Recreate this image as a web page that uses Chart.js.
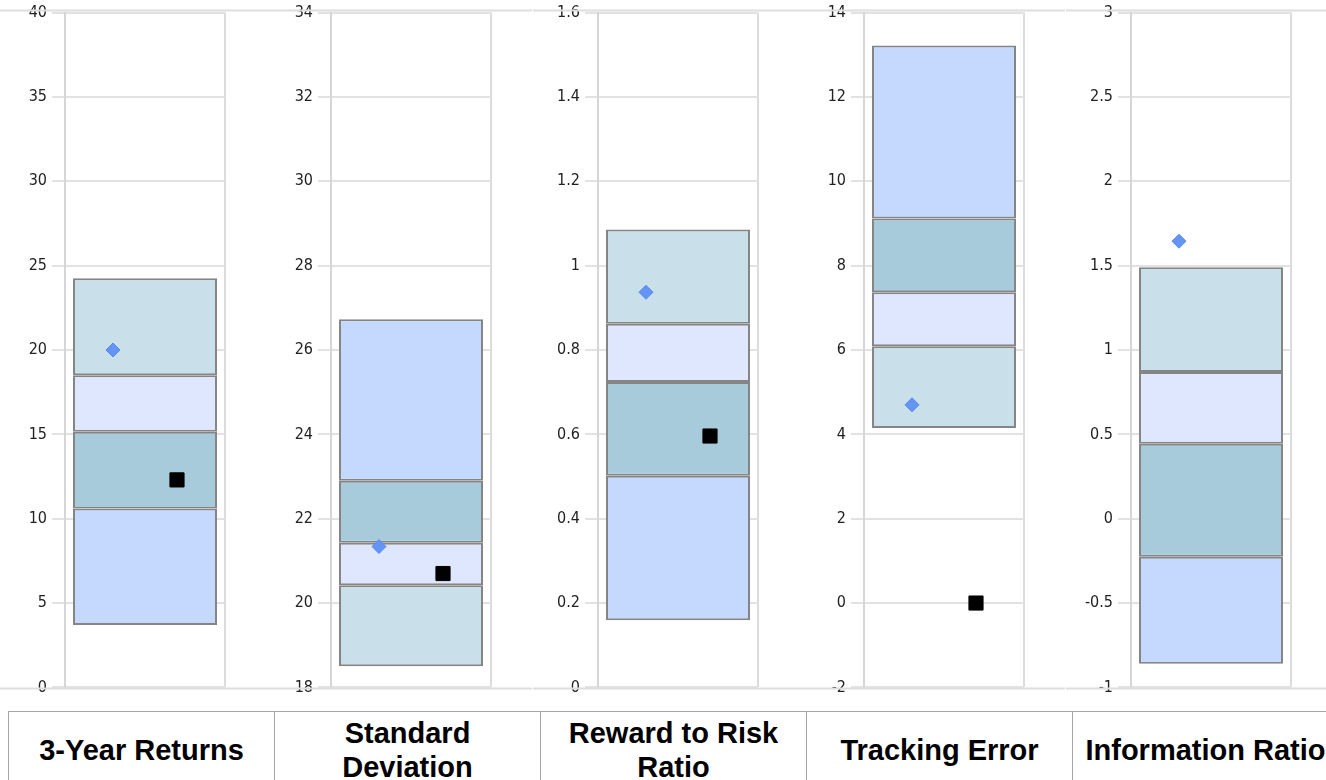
<!DOCTYPE html>
<html>
<head>
<meta charset="utf-8">
<script src="https://cdn.jsdelivr.net/npm/chart.js@4/dist/chart.umd.min.js"></script>
<style>
  html, body { margin: 0; padding: 0; background: #fff; width: 1326px; height: 780px; overflow: hidden; }
  .panel { position: absolute; top: -2px; width: 266px; height: 704px; }
  table {
    position: absolute; top: 711px; left: 8px;
    border-collapse: collapse; table-layout: fixed; width: 1330px;
  }
  td {
    width: 266px; height: 76px; padding: 0 5px; box-sizing: border-box;
    border: 1px solid #a6a6a6; text-align: center; vertical-align: middle;
    font: bold 29px 'Liberation Sans', Arial, sans-serif; line-height: 34px; color: #000;
    white-space: normal; overflow: visible;
  }
</style>
</head>
<body>
<div id="panels"></div>
<table><tr id="hdr"></tr></table>
<script>
// one panel per metric
const metrics = ['3-Year Returns', 'Standard Deviation', 'Reward to Risk Ratio', 'Tracking Error', 'Information Ratio'];
const yMin = [0, 18, 0, -2, -1];
const yMax = [40, 34, 1.6, 14, 3];
const yStep = [5, 2, 0.2, 2, 0.5];

// quartile band edges, bottom to top
const bandEdges = [
    [3.7, 10.6, 15.15, 18.5, 24.25],
    [18.5, 20.42, 21.43, 22.9, 26.73],
    [0.159, 0.502, 0.724, 0.862, 1.086],
    [4.15, 6.09, 7.37, 9.12, 13.22],
    [-0.86, -0.225, 0.445, 0.87, 1.49],
];
const higherIsBetter = [true, false, true, false, true];

const fundValues = [20.0, 21.34, 0.937, 4.70, 1.645];      // blue diamond
const benchmarkValues = [12.3, 20.7, 0.596, 0, null];       // black square

// colours for 1st..4th quartile
const quartileColors = ['#c9e0ea', '#dfe7fe', '#a8cbdc', '#c5d8fd'];

const frameLines = {
    id: 'frameLines',
    beforeDatasetsDraw(chart) {
        const { ctx, scales: { y } } = chart;
        ctx.save();
        ctx.strokeStyle = '#dedede';
        ctx.lineWidth = 2;
        ctx.beginPath();
        ctx.moveTo(0, y.top - 2); ctx.lineTo(chart.width, y.top - 2);
        ctx.moveTo(0, y.bottom + 1); ctx.lineTo(chart.width, y.bottom + 1);
        ctx.stroke();
        ctx.restore();
    }
};

const panels = document.getElementById('panels');
const hdr = document.getElementById('hdr');

metrics.forEach((name, i) => {
    const td = document.createElement('td');
    td.textContent = name;
    hdr.appendChild(td);

    const div = document.createElement('div');
    div.className = 'panel';
    div.style.left = Math.floor(i * 266.5) + 'px';
    const canvas = document.createElement('canvas');
    div.appendChild(canvas);
    panels.appendChild(div);

    const edges = bandEdges[i];
    const bands = [];
    for (let b = 0; b < 4; b++) {
        // band b counted from bottom; quartile depends on direction
        const q = higherIsBetter[i] ? 3 - b : b;
        bands.push({
            type: 'bar',
            data: [[edges[b], edges[b + 1]]],
            backgroundColor: quartileColors[q],
            borderColor: '#858585',
            borderWidth: 2,
            borderSkipped: false,
            grouped: false,
            barPercentage: 0.9,
            categoryPercentage: 1.0,
            order: 2,
        });
    }

    const points = [
        {
            type: 'scatter',
            xAxisID: 'xp',
            data: [{ x: -0.4, y: fundValues[i] }],
            pointStyle: 'rectRot',
            pointRadius: 7,
            backgroundColor: '#6494f5',
            borderColor: '#5a88ea',
            borderWidth: 1,
            order: 0,
        },
        {
            type: 'scatter',
            xAxisID: 'xp',
            data: benchmarkValues[i] === null ? [] : [{ x: 0.4, y: benchmarkValues[i] }],
            pointStyle: 'rect',
            pointRadius: 10,
            backgroundColor: '#000',
            borderColor: '#000',
            borderWidth: 1,
            order: 0,
        },
    ];

    new Chart(canvas, {
        type: 'bar',
        data: { labels: [''], datasets: [...bands, ...points] },
        plugins: [frameLines],
        options: {
            responsive: true,
            maintainAspectRatio: false,
            animation: false,
            layout: { padding: { top: 10, right: 41, bottom: 10, left: 0 } },
            plugins: { legend: { display: false }, tooltip: { enabled: false } },
            scales: {
                x: {
                    ticks: { display: false },
                    grid: { offset: true, color: '#dcdcdc', lineWidth: 2, drawTicks: false },
                    border: { display: false },
                },
                xp: {
                    type: 'linear',
                    min: -1,
                    max: 1,
                    offset: false,
                    display: false,
                },
                y: {
                    min: yMin[i],
                    max: yMax[i],
                    ticks: {
                        stepSize: yStep[i],
                        color: '#222',
                        padding: 5,
                        font: { family: "'DejaVu Sans Condensed', 'DejaVu Sans'", size: 16 },
                        callback: (v) => String(Number(v.toFixed(4))),
                    },
                    grid: { color: '#e2e2e2', lineWidth: 2, tickLength: 13 },
                    border: { display: true, color: '#d6d6d6', width: 2 },
                    afterFit(scale) { scale.width = 65; },
                },
            },
        },
    });
});
</script>
</body>
</html>
